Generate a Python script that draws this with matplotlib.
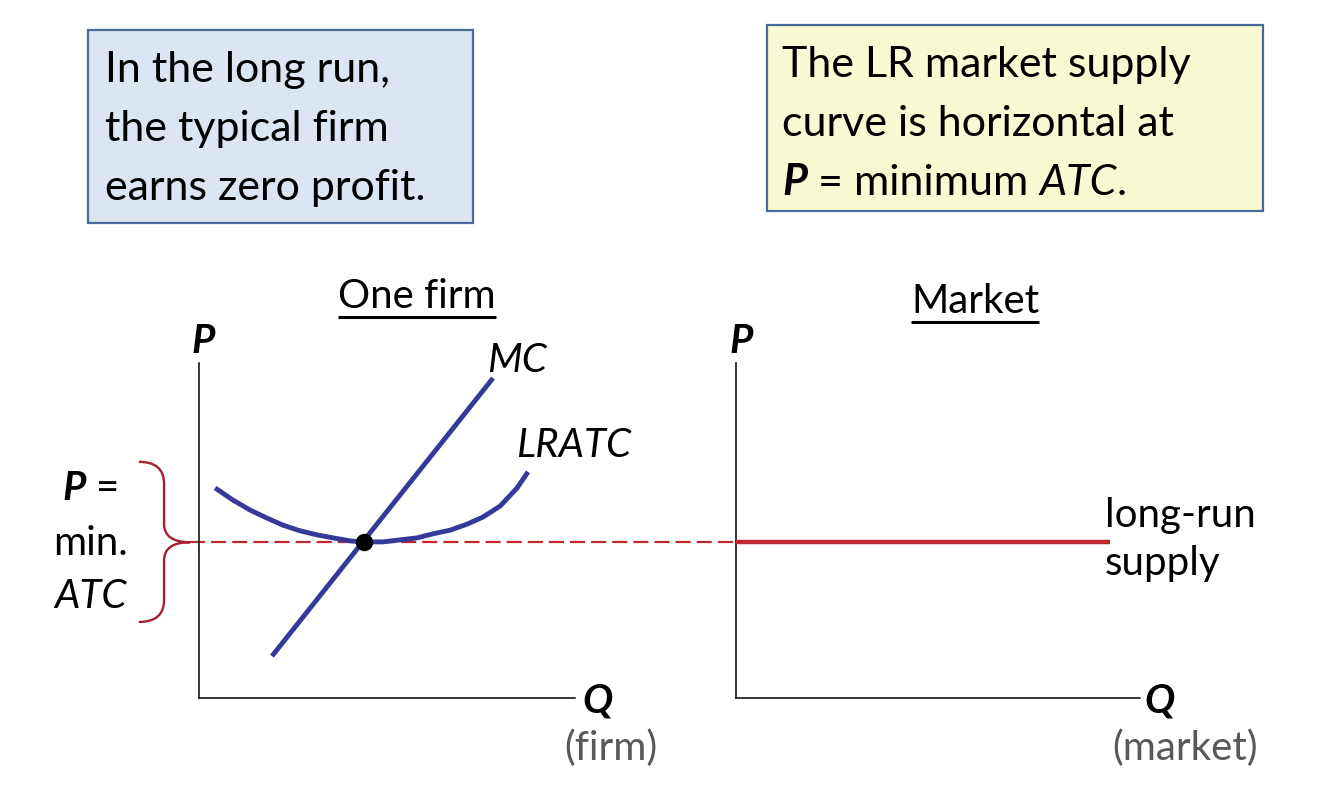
import numpy as np
import matplotlib.pyplot as plt
from matplotlib.patches import Rectangle, PathPatch
from matplotlib.path import Path

plt.rcParams['font.family'] = ['Lato', 'DejaVu Sans']

# firm panel (Q, P in arbitrary units, axes span 0..10)
mc_q = [1.94, 7.82]
mc_p = [1.25, 9.55]
lratc_q = [0.43, 0.90, 1.36, 1.81, 2.23, 2.69, 3.14, 3.56, 4.02, 4.36,
           4.89, 5.35, 5.80, 6.22, 6.68, 7.13, 7.55, 8.01, 8.46, 8.75]
lratc_p = [6.27, 5.91, 5.61, 5.37, 5.16, 4.99, 4.87, 4.78, 4.69, 4.66,
           4.66, 4.72, 4.78, 4.90, 5.01, 5.19, 5.40, 5.73, 6.27, 6.75]
q_min = 4.39
p_min = 4.65

# market panel
supply_q = [0.0, 9.26]
supply_p = [p_min, p_min]

box_left_lines = ["In the long run,", "the typical firm", "earns zero profit."]
box_right_lines = ["The LR market supply", "curve is horizontal at"]

BLUE = '#34399a'
RED = '#c0282d'
BRACE = '#a3202e'
GREY = '#595959'
FS = 29

W, H = 1326, 798
fig = plt.figure(figsize=(W / 100, H / 100), dpi=100, facecolor='white')


def px_axes(x0, x1, y0, y1):
    # axes placed from pixel edges (y measured from top)
    return fig.add_axes([x0 / W, (H - y1) / H, (x1 - x0) / W, (y1 - y0) / H])


def style_panel(ax):
    ax.set_xlim(0, 10)
    ax.set_ylim(0, 10)
    ax.patch.set_alpha(0)
    for s in ['top', 'right']:
        ax.spines[s].set_visible(False)
    for s in ['left', 'bottom']:
        ax.spines[s].set_linewidth(1.1)
    ax.set_xticks([])
    ax.set_yticks([])


ax1 = px_axes(199, 575, 363, 698)
ax2 = px_axes(736, 1140, 363, 698)
style_panel(ax1)
style_panel(ax2)

# overlay in pixel coordinates for the text and boxes
ov = fig.add_axes([0, 0, 1, 1], zorder=-1)
ov.set_xlim(0, W)
ov.set_ylim(H, 0)
ov.axis('off')

# curves
ax1.plot(mc_q, mc_p, color=BLUE, lw=3.5, solid_capstyle='butt', zorder=3)
ax1.plot(lratc_q, lratc_p, color=BLUE, lw=3.5, solid_capstyle='butt',
         solid_joinstyle='round', zorder=3)
ax1.plot([q_min], [p_min], 'o', color='black', ms=11.5, zorder=5)

# dashed line from brace tip to the market axis
x_end = ax1.transData.inverted().transform(ax2.transData.transform((0, p_min)))[0]
ax1.plot([-0.24, x_end], [p_min, p_min], color=RED, lw=1.6,
         linestyle=(0, (6.8, 2.7)), clip_on=False, zorder=2)

ax2.plot(supply_q, supply_p, color=RED, lw=3.2, solid_capstyle='butt', zorder=3)

# brace
bt, bb = 7.05, 2.27
xe, xm, xt = -1.60, -0.93, -0.24
verts = [(xe, bt), (xm, bt), (xm, bt - 0.65),
         (xm, p_min + 0.55),
         (xm, p_min), (xt, p_min),
         (xm, p_min), (xm, p_min - 0.55),
         (xm, bb + 0.65),
         (xm, bb), (xe, bb)]
codes = [Path.MOVETO, Path.CURVE3, Path.CURVE3, Path.LINETO,
         Path.CURVE3, Path.CURVE3, Path.CURVE3, Path.CURVE3,
         Path.LINETO, Path.CURVE3, Path.CURVE3]
ax1.add_patch(PathPatch(Path(verts, codes), fill=False, ec=BRACE, lw=1.7,
                        clip_on=False))

# boxes
ov.add_patch(Rectangle((88, 30), 385, 193, fc='#dce6f2', ec='#4a6a9c', lw=1.6))
ov.add_patch(Rectangle((767, 25), 496, 186, fc='#f9f9d3', ec='#4a6a9c', lw=1.6))

renderer = fig.canvas.get_renderer()


def space_w(size):
    a = ov.text(0, 0, "a a", fontsize=size)
    b = ov.text(0, 0, "aa", fontsize=size)
    w = a.get_window_extent(renderer).width - b.get_window_extent(renderer).width
    a.remove()
    b.remove()
    return w


def chain(x, y, parts, size=FS, color='black'):
    # parts: (text, style, weight, gap_before)
    sw = space_w(size)
    xd = ov.transData.transform((x, y))[0]
    for txt, st, wt, gap in parts:
        xd += sw if gap else 0
        xx = ov.transData.inverted().transform((xd, 0))[0]
        t = ov.text(xx, y, txt, fontsize=size, style=st, weight=wt,
                    color=color, va='baseline', ha='left')
        xd = t.get_window_extent(renderer).x1
    return xd


for i, line in enumerate(box_left_lines):
    ov.text(105, 82 + 59 * i, line, fontsize=31, va='baseline', ha='left')
for i, line in enumerate(box_right_lines):
    ov.text(782, 77 + 59 * i, line, fontsize=31, va='baseline', ha='left')
chain(782, 195, [("P", 'italic', 'bold', False), ("=", 'normal', 'normal', True),
                 ("minimum", 'normal', 'normal', True),
                 ("ATC", 'italic', 'normal', True), (".", 'normal', 'normal', False)],
      size=31)

# panel titles with underline
for label, cx, base, ul in [("One firm", 417, 308, 317), ("Market", 975, 313, 322)]:
    t = ov.text(cx, base, label, fontsize=FS, ha='center', va='baseline')
    bbx = t.get_window_extent(renderer)
    x0 = ov.transData.inverted().transform((bbx.x0, 0))[0]
    x1 = ov.transData.inverted().transform((bbx.x1, 0))[0]
    ov.plot([x0, x1], [ul, ul], color='black', lw=2.2, solid_capstyle='butt')

# axis labels
ov.text(203, 353, "P", fontsize=FS, style='italic', weight='bold', ha='center', va='baseline')
ov.text(741, 353, "P", fontsize=FS, style='italic', weight='bold', ha='center', va='baseline')
ov.text(597, 712, "Q", fontsize=FS, style='italic', weight='bold', ha='center', va='baseline')
ov.text(1160, 712, "Q", fontsize=FS, style='italic', weight='bold', ha='center', va='baseline')
ov.text(611, 760, "(firm)", fontsize=FS, color=GREY, ha='center', va='baseline')
ov.text(1185, 760, "(market)", fontsize=FS, color=GREY, ha='center', va='baseline')

ov.text(517, 372, "MC", fontsize=FS, style='italic', ha='center', va='baseline')
ov.text(574, 457, "LRATC", fontsize=FS, style='italic', ha='center', va='baseline')
ov.text(1105, 527, "long-run", fontsize=FS, ha='left', va='baseline')
ov.text(1105, 575, "supply", fontsize=FS, ha='left', va='baseline')

# P = min. ATC label
t = ov.text(0, 0, "P =", fontsize=FS)
wP = t.get_window_extent(renderer).width
t.remove()
xstart = ov.transData.inverted().transform((ov.transData.transform((91, 0))[0] - wP / 2, 0))[0]
chain(xstart, 500, [("P", 'italic', 'bold', False), ("=", 'normal', 'normal', True)])
ov.text(91, 555, "min.", fontsize=FS, ha='center', va='baseline')
ov.text(91, 608, "ATC", fontsize=FS, style='italic', ha='center', va='baseline')

fig.savefig('out.png', dpi=100, facecolor='white')
